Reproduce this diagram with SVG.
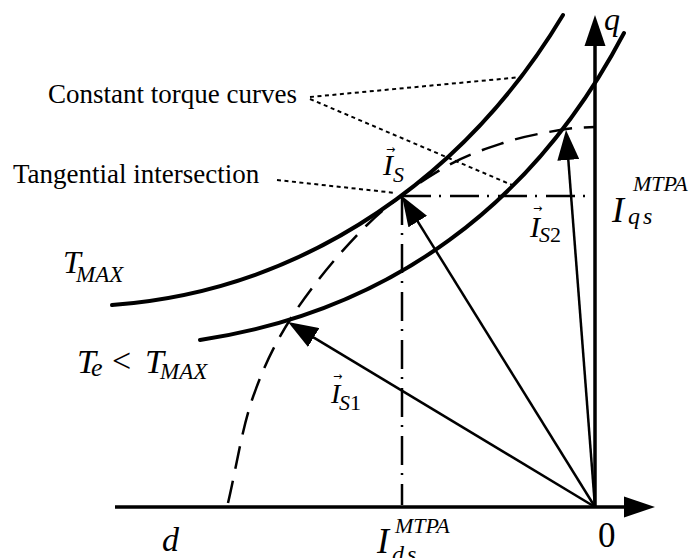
<svg xmlns="http://www.w3.org/2000/svg" width="692" height="558" viewBox="0 0 692 558">
<style>
.curve{fill:none;stroke:#000;stroke-width:4;stroke-linecap:round}
.axis{stroke:#000;stroke-width:3.5}
.vec{stroke:#000;stroke-width:2.5;marker-end:url(#ah)}
.dash{fill:none;stroke:#000;stroke-width:2.5;stroke-dasharray:23 12}
.dd{stroke:#000;stroke-width:2.5;stroke-dasharray:29 8 2 9}
.dot{stroke:#000;stroke-width:2;stroke-dasharray:4 3.5}
.lbl{font-family:"Liberation Serif","Times New Roman",serif;font-size:27px}
.m{font-family:"Liberation Serif","Times New Roman",serif;font-style:italic}
.up{font-family:"Liberation Serif","Times New Roman",serif;font-style:normal}
.arr{font-family:"DejaVu Sans",sans-serif;font-size:11px}
</style>
<defs>
<marker id="ah" viewBox="0 0 30 22" markerWidth="30" markerHeight="22" markerUnits="userSpaceOnUse" refX="25" refY="11" orient="auto">
<path d="M0,0 L30,11 L0,22 z" fill="#000"/>
</marker>
</defs>
<g id="axes">
<line class="axis" x1="115" y1="507" x2="626" y2="507"/>
<polygon points="655,507 624,496.5 624,517.5" fill="#000"/>
<line class="axis" x1="595" y1="508" x2="595" y2="44"/>
<polygon points="595,15 584.5,46 605.5,46" fill="#000"/>
</g>
<g id="curves">
<path id="tmax" class="curve" d="M112,305 C312,290 470,170 563,15"/>
<path id="te" class="curve" d="M200,340 C390,311.5 534,204 624,33"/>
<path id="circle" class="dash" d="M228,503 C236.3,467.7 241.8,428.8 253,397 C264.2,365.2 276,340.7 295,312 C314,283.3 342.8,248.7 367,225 C391.2,201.3 417.3,183.7 440,170 C462.7,156.3 483,149.7 503,143 C523,136.3 544.7,132.7 560,130 C575.3,127.3 583.3,127.5 595,127"/>
</g>
<g id="connectors">
<line class="dd" x1="402" y1="196" x2="595" y2="196"/>
<line class="dd" x1="402" y1="196" x2="402" y2="505"/>
<line class="vec" x1="595" y1="507" x2="404.6" y2="200.3"/>
<line class="vec" x1="595" y1="507" x2="292.3" y2="324.6"/>
<line class="vec" x1="595" y1="507" x2="566.4" y2="135"/>
<line class="dot" x1="310" y1="97" x2="522" y2="77"/>
<line class="dot" x1="310" y1="99" x2="512" y2="185"/>
<line class="dot" x1="277" y1="180" x2="396" y2="193"/>
</g>
<g id="label-constant">
<text class="lbl" x="48" y="103">Constant torque curves</text>
</g>
<g id="label-tangential">
<text class="lbl" x="13" y="183">Tangential intersection</text>
</g>
<g id="label-tmax">
<text class="m" x="63" y="273" font-size="32">T</text>
<text class="m" x="76" y="282" font-size="23">MAX</text>
</g>
<g id="label-te">
<text class="m" x="77" y="373" font-size="34">T</text>
<text class="m" x="91" y="376" font-size="26">e</text>
<text class="up" x="112" y="372" font-size="34">&lt;</text>
<text class="m" x="145" y="373" font-size="34">T</text>
<text class="m" x="160" y="379" font-size="23">MAX</text>
</g>
<g id="label-is">
<text class="arr" x="386" y="153">→</text>
<text class="m" x="383" y="175" font-size="30">I</text>
<text class="m" x="393" y="182" font-size="22">S</text>
</g>
<g id="label-is1">
<text class="arr" x="333" y="380">→</text>
<text class="m" x="331" y="403" font-size="28">I</text>
<text class="m" x="339" y="410" font-size="22">S<tspan class="up">1</tspan></text>
</g>
<g id="label-is2">
<text class="arr" x="533" y="212">→</text>
<text class="m" x="530" y="237" font-size="30">I</text>
<text class="m" x="539" y="242" font-size="22">S<tspan class="up">2</tspan></text>
</g>
<g id="label-iqs">
<text class="m" x="612" y="222" font-size="36">I</text>
<text class="m" x="633" y="191" font-size="22">MTPA</text>
<text class="m" x="628" y="224" font-size="24" letter-spacing="3">qs</text>
</g>
<g id="label-ids">
<text class="m" x="377" y="553" font-size="36">I</text>
<text class="m" x="395" y="533" font-size="22">MTPA</text>
<text class="m" x="392" y="562" font-size="24" letter-spacing="3">ds</text>
</g>
<g id="label-axes">
<text class="m" x="162" y="551" font-size="34">d</text>
<text class="up" x="598" y="547" font-size="35">0</text>
<text class="m" x="604" y="30" font-size="32">q</text>
</g>
</svg>
